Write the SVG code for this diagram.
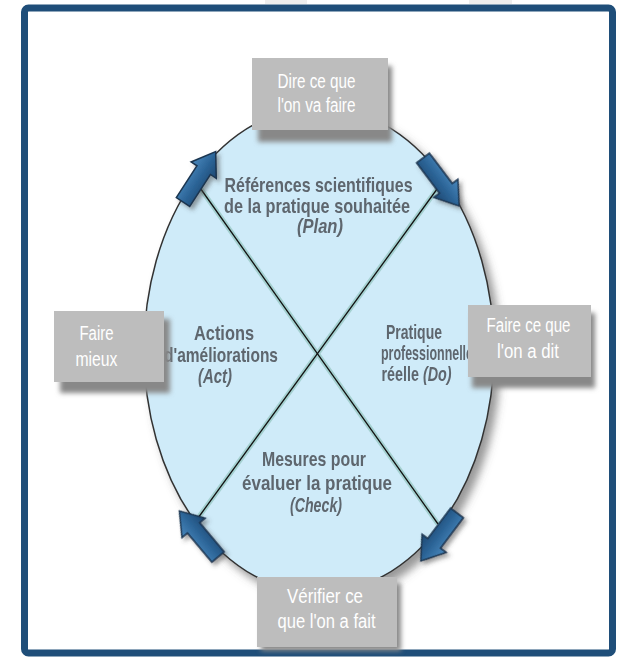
<svg xmlns="http://www.w3.org/2000/svg" width="631" height="657" viewBox="0 0 631 657">
  <style>
    .main { font-family: "Liberation Sans", Arial, sans-serif; font-weight: bold; font-size: 21px; fill: #5e666e; text-anchor: middle; }
    .it { font-style: italic; }
    .boxtxt { font-family: "Liberation Sans", Arial, sans-serif; font-size: 20px; fill: #ffffff; text-anchor: middle; }
    .box { fill: #bdbdbd; }
    .boxshadow { fill: #888888; filter: url(#soft); }
    .arrow { fill: url(#arrowGrad); stroke: #1a3550; stroke-width: 1.5; stroke-linejoin: miter; }
    .halo { stroke: #a4d0d0; stroke-width: 5; fill: none; }
    .spoke { stroke: #111; stroke-width: 1.3; fill: none; }
  </style>
  <defs>
    <filter id="soft" x="-20%" y="-20%" width="140%" height="140%">
      <feGaussianBlur stdDeviation="2.5"/>
    </filter>
    <filter id="ellShadow" x="-10%" y="-10%" width="125%" height="125%">
      <feDropShadow dx="6" dy="7" stdDeviation="4" flood-color="#555" flood-opacity="0.6"/>
    </filter>
    <filter id="arrShadow" x="-30%" y="-30%" width="160%" height="160%">
      <feDropShadow dx="3" dy="3" stdDeviation="2" flood-color="#444" flood-opacity="0.5"/>
    </filter>
    <linearGradient id="arrowGrad" x1="0" y1="0" x2="0" y2="1">
      <stop offset="0" stop-color="#4a88bd"/>
      <stop offset="0.5" stop-color="#2d6699"/>
      <stop offset="1" stop-color="#1d4670"/>
    </linearGradient>
    <!-- block arrow pointing along +x, tail centre at origin -->
    <path id="blockArrow" d="M0,-8 L38,-8 L38,-15 L60,0 L38,15 L38,8 L0,8 Z"/>
  </defs>

  <rect width="631" height="657" fill="#ffffff"/>
  <!-- faint marks above the frame -->
  <rect x="265" y="0" width="42" height="4" fill="#eeeeee"/>
  <rect x="469" y="0" width="43" height="4" fill="#eeeeee"/>

  <!-- frame -->
  <rect x="24.5" y="8" width="588" height="645" rx="4" fill="#ffffff" stroke="#1f4e79" stroke-width="7"/>

  <!-- cycle ellipse -->
  <g id="cycle">
    <ellipse cx="319" cy="350" rx="175" ry="243" fill="#cfebf9" stroke="#333" stroke-width="1.5" filter="url(#ellShadow)"/>
  </g>

  <!-- connectors: crossing spokes and cycle arrows -->
  <g id="connectors">
    <line class="halo" x1="198" y1="185" x2="438" y2="524"/>
    <line class="halo" x1="440" y1="185" x2="198" y2="518"/>
    <line class="spoke" x1="198" y1="185" x2="438" y2="524"/>
    <line class="spoke" x1="440" y1="185" x2="198" y2="518"/>
    <g filter="url(#arrShadow)">
      <use href="#blockArrow" class="arrow" transform="translate(183,202) rotate(-57)"/>
      <use href="#blockArrow" class="arrow" transform="translate(423,158) rotate(53)"/>
      <use href="#blockArrow" class="arrow" transform="translate(457,513) rotate(127)"/>
      <use href="#blockArrow" class="arrow" transform="translate(218,557) rotate(-130)"/>
    </g>
  </g>

  <!-- phase labels inside the ellipse -->
  <g id="plan">
    <text class="main" x="318.5" y="192" textLength="188" lengthAdjust="spacingAndGlyphs">Références scientifiques</text>
    <text class="main" x="317" y="213" textLength="186" lengthAdjust="spacingAndGlyphs">de la pratique souhaitée</text>
    <text class="main it" x="320" y="233" textLength="46" lengthAdjust="spacingAndGlyphs">(Plan)</text>
  </g>
  <g id="act">
    <text class="main" x="224" y="340" textLength="60" lengthAdjust="spacingAndGlyphs">Actions</text>
    <text class="main" x="221" y="362" textLength="114" lengthAdjust="spacingAndGlyphs">d'améliorations</text>
    <text class="main it" x="215" y="383" textLength="34" lengthAdjust="spacingAndGlyphs">(Act)</text>
  </g>
  <g id="do">
    <text class="main" x="414" y="339" textLength="56" lengthAdjust="spacingAndGlyphs">Pratique</text>
    <text class="main" x="427" y="360" textLength="92" lengthAdjust="spacingAndGlyphs">professionnelle</text>
    <text class="main" x="416.5" y="381" textLength="70" lengthAdjust="spacingAndGlyphs">réelle <tspan class="it">(Do)</tspan></text>
  </g>
  <g id="check">
    <text class="main" x="314" y="466" textLength="104" lengthAdjust="spacingAndGlyphs">Mesures pour</text>
    <text class="main" x="317" y="490" textLength="150" lengthAdjust="spacingAndGlyphs">évaluer la pratique</text>
    <text class="main it" x="316" y="512" textLength="52" lengthAdjust="spacingAndGlyphs">(Check)</text>
  </g>

  <!-- grey caption boxes -->
  <g id="box-plan">
    <rect class="boxshadow" x="258" y="66" width="134" height="76"/>
    <rect class="box" x="252" y="58" width="136" height="72"/>
    <text class="boxtxt" x="316.5" y="88" textLength="78" lengthAdjust="spacingAndGlyphs">Dire ce que</text>
    <text class="boxtxt" x="316.5" y="112" textLength="78" lengthAdjust="spacingAndGlyphs">l'on va faire</text>
  </g>
  <g id="box-act">
    <rect class="boxshadow" x="60" y="319" width="110" height="74"/>
    <rect class="box" x="54" y="311" width="110" height="71"/>
    <text class="boxtxt" x="96.5" y="340" textLength="34" lengthAdjust="spacingAndGlyphs">Faire</text>
    <text class="boxtxt" x="96.5" y="366" textLength="42" lengthAdjust="spacingAndGlyphs">mieux</text>
  </g>
  <g id="box-do">
    <rect class="boxshadow" x="472" y="313" width="123" height="75"/>
    <rect class="box" x="468" y="305" width="123" height="72"/>
    <text class="boxtxt" x="528.5" y="332" textLength="84" lengthAdjust="spacingAndGlyphs">Faire ce que</text>
    <text class="boxtxt" x="528" y="358" textLength="62" lengthAdjust="spacingAndGlyphs">l'on a dit</text>
  </g>
  <g id="box-check">
    <rect class="boxshadow" x="261" y="583" width="140" height="68"/>
    <rect class="box" x="257" y="577" width="140" height="70"/>
    <text class="boxtxt" x="325" y="603" textLength="76" lengthAdjust="spacingAndGlyphs">Vérifier ce</text>
    <text class="boxtxt" x="326.5" y="628" textLength="98" lengthAdjust="spacingAndGlyphs">que l'on a fait</text>
  </g>
</svg>
